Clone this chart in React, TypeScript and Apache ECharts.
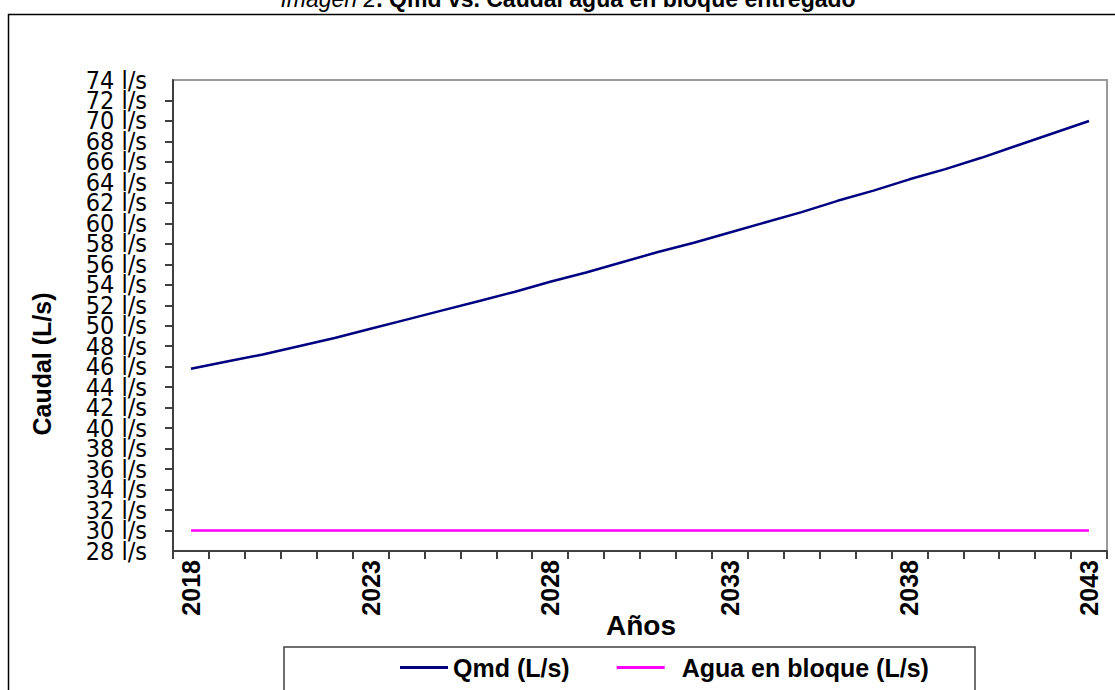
import React, { useEffect, useRef } from "react";
import * as echarts from "echarts";

const years = [
  "2018", "2019", "2020", "2021", "2022", "2023", "2024", "2025", "2026", "2027",
  "2028", "2029", "2030", "2031", "2032", "2033", "2034", "2035", "2036", "2037",
  "2038", "2039", "2040", "2041", "2042", "2043",
];

const qmd = [
  45.8, 46.5, 47.2, 48.0, 48.8, 49.7, 50.6, 51.5, 52.4, 53.3,
  54.3, 55.2, 56.2, 57.2, 58.1, 59.1, 60.1, 61.1, 62.2, 63.2,
  64.3, 65.3, 66.4, 67.6, 68.8, 70.0,
];

const aguaBloque = [
  30, 30, 30, 30, 30, 30, 30, 30, 30, 30,
  30, 30, 30, 30, 30, 30, 30, 30, 30, 30,
  30, 30, 30, 30, 30, 30,
];

const seriesNames = ["Qmd (L/s)", "Agua en bloque (L/s)"];
const titleItalic = "Imagen 2";
const titleBold = ". Qmd vs. Caudal agua en bloque entregado";
const yName = "Caudal (L/s)";
const xName = "Años";
const yMin = 28;
const yMax = 74;
const yStep = 2;
const yUnit = "l/s";

const ARIAL = "Arial, 'Liberation Sans', sans-serif";
const YFONT = "'DejaVu Sans Condensed', 'DejaVu Sans', sans-serif";

const yLabelStyle = {
  fontFamily: YFONT,
  fontSize: 25,
  color: "#000",
};

export default function App() {
  const ref = useRef<HTMLDivElement>(null);

  useEffect(() => {
    if (!ref.current) return;
    const chart = echarts.init(ref.current, undefined, { renderer: "svg" });
    chart.setOption({
      animation: false,
      backgroundColor: "#ffffff",
      grid: {
        left: 173,
        right: 8,
        top: 80,
        bottom: 139,
        show: true,
        borderColor: "#9a9a9a",
        borderWidth: 2,
        backgroundColor: "transparent",
      },
      legend: {
        data: [
          { name: seriesNames[0] },
          { name: seriesNames[1], textStyle: { padding: [0, 0, 0, 12] } },
        ],
        icon: "rect",
        left: 400,
        top: 655,
        padding: 0,
        itemWidth: 48,
        itemHeight: 3,
        itemGap: 47,
        textStyle: {
          fontFamily: ARIAL,
          fontWeight: "bold",
          fontSize: 25,
          color: "#000",
        },
      },
      xAxis: {
        type: "category",
        data: years,
        boundaryGap: true,
        axisLine: { show: true, lineStyle: { color: "#404040", width: 2 } },
        axisTick: {
          show: true,
          interval: 0,
          inside: false,
          length: 8,
          lineStyle: { color: "#404040", width: 2 },
        },
        axisLabel: {
          interval: 4,
          rotate: 90,
          margin: 9,
          fontFamily: ARIAL,
          fontWeight: "bold",
          fontSize: 25,
          color: "#000",
        },
        splitLine: { show: false },
      },
      yAxis: [
        {
          type: "value",
          position: "left",
          min: yMin,
          max: yMax,
          interval: yStep,
          axisLine: { show: true, lineStyle: { color: "#404040", width: 2 } },
          axisTick: {
            show: true,
            inside: false,
            length: 8,
            lineStyle: { color: "#404040", width: 2 },
          },
          axisLabel: {
            margin: 26,
            showMinLabel: false,
            showMaxLabel: false,
            hideOverlap: false,
            formatter: (v: number) => `${v} ${yUnit}`,
            ...yLabelStyle,
          },
          splitLine: { show: false },
        },
        {
          type: "value",
          position: "left",
          offset: 0,
          min: yMin,
          max: yMax,
          interval: yStep,
          axisLine: { show: false },
          axisTick: { show: false },
          axisLabel: {
            margin: 26,
            showMinLabel: true,
            showMaxLabel: true,
            hideOverlap: false,
            formatter: (v: number) =>
              v === yMin || v === yMax ? `${v} ${yUnit}` : "",
            ...yLabelStyle,
          },
          splitLine: { show: false },
        },
      ],
      series: [
        {
          name: seriesNames[0],
          type: "line",
          yAxisIndex: 0,
          data: qmd,
          symbol: "none",
          lineStyle: { color: "#000080", width: 2.5 },
          itemStyle: { color: "#000080" },
        },
        {
          name: seriesNames[1],
          type: "line",
          yAxisIndex: 0,
          data: aguaBloque,
          symbol: "none",
          lineStyle: { color: "#ff00ff", width: 2.5 },
          itemStyle: { color: "#ff00ff" },
        },
      ],
      graphic: [
        {
          type: "rect",
          shape: { x: 8.5, y: 14.5, width: 1120, height: 700 },
          style: { fill: "none", stroke: "#000", lineWidth: 1.5 },
          silent: true,
        },
        {
          type: "rect",
          shape: { x: 284, y: 647, width: 691, height: 60 },
          style: { fill: "none", stroke: "#404040", lineWidth: 1.5 },
          silent: true,
        },
        {
          type: "text",
          x: 568,
          y: 10,
          style: {
            text: `{i|${titleItalic}}{b|${titleBold}}`,
            align: "center",
            verticalAlign: "bottom",
            rich: {
              i: { fontFamily: ARIAL, fontStyle: "italic", fontSize: 23, fill: "#000" },
              b: { fontFamily: ARIAL, fontWeight: "bold", fontSize: 23, fill: "#000" },
            },
          },
          silent: true,
        },
        {
          type: "text",
          x: 42,
          y: 364,
          rotation: Math.PI / 2,
          style: {
            text: yName,
            align: "center",
            verticalAlign: "middle",
            fontFamily: ARIAL,
            fontWeight: "bold",
            fontSize: 25,
            fill: "#000",
          },
          silent: true,
        },
        {
          type: "text",
          x: 641,
          y: 625,
          style: {
            text: xName,
            align: "center",
            verticalAlign: "middle",
            fontFamily: ARIAL,
            fontWeight: "bold",
            fontSize: 28,
            fill: "#000",
          },
          silent: true,
        },
      ],
    });
    return () => chart.dispose();
  }, []);

  return (
    <div
      ref={ref}
      style={{ position: "absolute", left: 0, top: 0, width: 1115, height: 690 }}
    />
  );
}
